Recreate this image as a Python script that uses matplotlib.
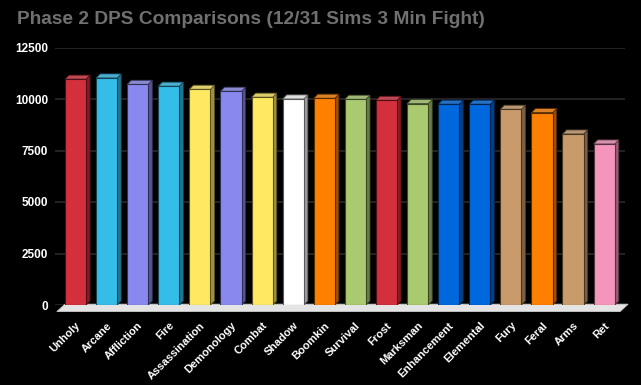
import numpy as np
import matplotlib.pyplot as plt
from matplotlib.patches import Polygon
from matplotlib.colors import to_rgb

specs = ['Unholy', 'Arcane', 'Affliction', 'Fire', 'Assassination', 'Demonology',
         'Combat', 'Shadow', 'Boomkin', 'Survival', 'Frost', 'Marksman',
         'Enhancement', 'Elemental', 'Fury', 'Feral', 'Arms', 'Ret']
dps = [10960, 11020, 10710, 10620, 10470, 10375, 10085, 10000, 10035,
       9985, 9935, 9770, 9745, 9745, 9500, 9335, 8300, 7815]
colors = ['#D32F3C', '#35BDEA', '#8888EE', '#35BDEA', '#FFE862', '#8888EE',
          '#FFE862', '#FFFFFF', '#FF7F00', '#A9CA6E', '#D32F3C', '#A9CA6E',
          '#0068DD', '#0068DD', '#C99B6A', '#FF7F00', '#C99B6A', '#F595BC']
yticks = [0, 2500, 5000, 7500, 10000, 12500]

plt.rcParams['font.family'] = ['Liberation Sans', 'DejaVu Sans']

def shade(c, f):
    r, g, b = to_rgb(c)
    return (r * f, g * f, b * f)

def tint(c, f):
    r, g, b = to_rgb(c)
    return (r + (1 - r) * f, g + (1 - g) * f, b + (1 - b) * f)

fig = plt.figure(figsize=(6.41, 3.85), dpi=100, facecolor='black')
ax = fig.add_axes([55 / 641, 80 / 385, 570 / 641, 257.5 / 385], facecolor='black')

x = np.arange(len(specs))
w = 0.68
dx, dy = 0.13, 200

# floor (slanted 3d base)
fl = Polygon([(-0.60, -320), (17.51, -320), (17.77, 40), (-0.34, 40)],
             closed=True, facecolor='#E4E4E4', edgecolor='#C8C8C8', lw=0.6,
             zorder=2, clip_on=False)
ax.add_patch(fl)

ax.bar(x, dps, width=w, color=colors, edgecolor=[shade(c, 0.35) for c in colors],
       linewidth=0.8, zorder=4)
for xi, v, c in zip(x, dps, colors):
    r = xi + w / 2
    l = xi - w / 2
    side = Polygon([(r, 0), (r + dx, dy), (r + dx, v + dy), (r, v)],
                   facecolor=shade(c, 0.62), edgecolor=shade(c, 0.35), lw=0.6, zorder=3)
    top = Polygon([(l, v), (r, v), (r + dx, v + dy), (l + dx, v + dy)],
                  facecolor=tint(shade(c, 0.85), 0.15), edgecolor=shade(c, 0.35), lw=0.6, zorder=3)
    ax.add_patch(side)
    ax.add_patch(top)

ax.set_xlim(-0.66, 17.67)
ax.set_ylim(0, 12500)
ax.set_yticks(yticks)
ax.set_yticklabels([str(t) for t in yticks], color='white', fontsize=8.5, fontweight='bold')
ax.set_xticks(x)
ax.set_xticklabels(specs, rotation=45, ha='right', rotation_mode='anchor',
                   color='white', fontsize=8, fontweight='bold')
ax.tick_params(axis='both', length=0)
ax.tick_params(axis='x', pad=11)
ax.tick_params(axis='y', pad=5)
ax.grid(axis='y', color='#2A2A2A', lw=1.2, zorder=0)
ax.set_axisbelow(True)
for s in ax.spines.values():
    s.set_visible(False)

fig.text(17 / 641, 1 - 20 / 385, 'Phase 2 DPS Comparisons (12/31 Sims 3 Min Fight)',
         color='#707070', fontsize=13.8, fontweight='bold', va='center', ha='left')

fig.savefig('out.png', dpi=100, facecolor='black')
